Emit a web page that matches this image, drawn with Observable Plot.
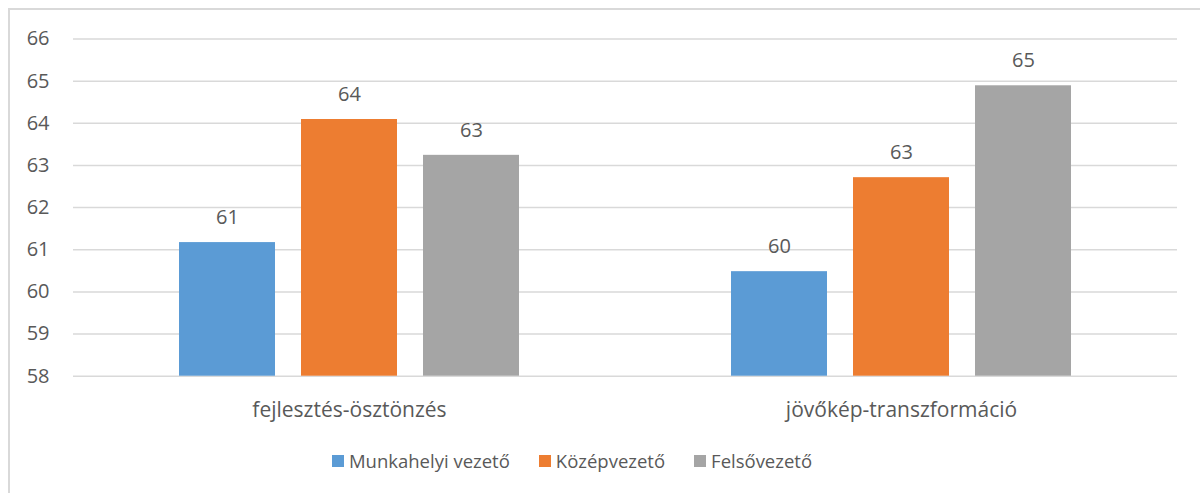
<!DOCTYPE html>
<html><head><meta charset="utf-8">
<script src="https://cdn.jsdelivr.net/npm/d3@7"></script>
<script src="https://cdn.jsdelivr.net/npm/@observablehq/plot@0.6"></script>
<style>
body{margin:0;background:#fff;font-family:"Open Sans",sans-serif;}
#wrap{position:relative;width:1200px;height:493px;overflow:hidden;background:#fff;}
#frame{position:absolute;left:8px;top:8px;width:1400px;height:700px;border-left:2px solid #d9d9d9;border-top:2px solid #d9d9d9;}
#chart{position:absolute;left:0;top:0;}
#legend{position:absolute;left:0;top:451px;width:1144px;display:flex;justify-content:center;gap:29px;font-size:18.5px;line-height:19px;color:#595959;}
.item{display:flex;align-items:center;gap:5px;white-space:nowrap;}
.sw{width:12px;height:12px;display:inline-block;}
</style></head>
<body>
<div id="wrap"><div id="frame"></div><div id="chart"></div><div id="legend"></div></div>
<script>
const categories = ["fejlesztés-ösztönzés", "jövőkép-transzformáció"];
const series = ["Munkahelyi vezető", "Középvezető", "Felsővezető"];
const munkahelyiVezeto = [61.17, 60.48];
const kozepvezeto = [64.09, 62.71];
const felsovezeto = [63.24, 64.89];
const colors = ["#5B9BD5", "#ED7D31", "#A5A5A5"];
const yTicks = [58, 59, 60, 61, 62, 63, 64, 65, 66];

const seriesValues = [munkahelyiVezeto, kozepvezeto, felsovezeto];
const data = [];
categories.forEach((c, i) => series.forEach((s, j) => data.push({category: c, series: s, value: seriesValues[j][i]})));

const fmt = d3.format(".0f");
const chart = Plot.plot({
  width: 1200,
  height: 432,
  marginLeft: 73,
  marginRight: 23,
  marginTop: 38.5,
  marginBottom: 56.3,
  style: {fontFamily: "'Open Sans', sans-serif", color: "#595959", background: "transparent"},
  fx: {domain: categories, padding: 0, label: null},
  x: {domain: series, paddingInner: 0.215, paddingOuter: 0.864, axis: null},
  y: {domain: [yTicks[0], yTicks[yTicks.length - 1]], label: null},
  color: {domain: series, range: colors},
  marks: [
    Plot.gridY({ticks: yTicks, stroke: "#d9d9d9", strokeOpacity: 1, strokeWidth: 1.5}),
    Plot.axisY({ticks: yTicks, tickSize: 0, tickPadding: 24, fontSize: 20, fill: "#595959", label: null}),
    Plot.axisFx({anchor: "bottom", tickSize: 0, tickPadding: 26, fontSize: 21, fill: "#595959", label: null}),
    Plot.barY(data, {fx: "category", x: "series", y1: yTicks[0], y2: "value", fill: "series"}),
    Plot.text(data, {fx: "category", x: "series", y: "value", text: d => fmt(d.value), dy: -25, fontSize: 20, fill: "#595959"})
  ]
});
document.getElementById("chart").appendChild(chart);

const legend = document.getElementById("legend");
series.forEach((s, i) => {
  const it = document.createElement("div");
  it.className = "item";
  const sw = document.createElement("span");
  sw.className = "sw";
  sw.style.background = colors[i];
  const t = document.createElement("span");
  t.textContent = s;
  it.appendChild(sw); it.appendChild(t);
  legend.appendChild(it);
});
</script>
</body></html>
